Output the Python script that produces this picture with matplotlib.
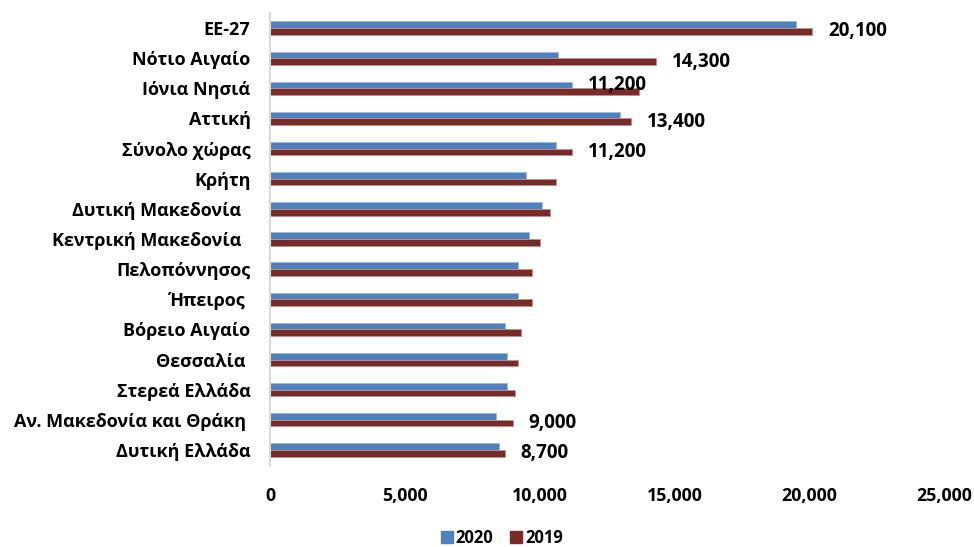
import matplotlib
matplotlib.use("Agg")
import matplotlib.pyplot as plt
import numpy as np
from matplotlib.patches import Patch

plt.rcParams['font.family'] = ['Open Sans', 'DejaVu Sans']
plt.rcParams['font.weight'] = 'bold'

categories = ["ΕΕ-27", "Νότιο Αιγαίο", "Ιόνια Νησιά", "Αττική", "Σύνολο χώρας",
              "Κρήτη", "Δυτική Μακεδονία  ", "Κεντρική Μακεδονία  ", "Πελοπόννησος",
              "Ήπειρος ", "Βόρειο Αιγαίο", "Θεσσαλία ", "Στερεά Ελλάδα",
              "Αν. Μακεδονία και Θράκη ", "Δυτική Ελλάδα"]
values_2020 = [19500, 10700, 11200, 13000, 10600, 9500, 10100, 9600, 9200,
               9200, 8700, 8800, 8800, 8400, 8500]
values_2019 = [20100, 14300, 13700, 13400, 11200, 10600, 10400, 10000, 9700,
               9700, 9300, 9200, 9100, 9000, 8700]
# rows that carry a data label, and which series the label belongs to
labelled_rows = [(0, "2019"), (1, "2019"), (2, "2020"), (3, "2019"),
                 (4, "2019"), (13, "2019"), (14, "2019")]
xticks = [0, 5000, 10000, 15000, 20000, 25000]

c2020 = "#4F81BD"
c2019 = "#772C2A"

fig = plt.figure(figsize=(9.74, 5.47), dpi=100)
ax = fig.add_axes([270/974, 82/547, 674/974, 452/547])

n = len(categories)
y = np.arange(n)
h = 0.222
ax.barh(y - h/2, values_2020, height=h, color=c2020, edgecolor="#9DB9DE", linewidth=0.6, label="2020")
ax.barh(y + h/2, values_2019, height=h, color=c2019, edgecolor="#C09090", linewidth=0.6, label="2019")

ax.set_ylim(n - 0.5, -0.5)
ax.set_xlim(0, 25000)
ax.set_yticks(y)
ax.set_yticklabels(categories, fontsize=13, fontweight='bold')
ax.set_xticks(xticks)
ax.set_xticklabels([f"{v:,}" for v in xticks], fontsize=12.8, fontweight='bold')
ax.tick_params(axis='y', length=0, pad=14)
ax.tick_params(axis='x', length=0, pad=16)

for s in ['top', 'right', 'bottom']:
    ax.spines[s].set_visible(False)
ax.spines['left'].set_color('#D9D9D9')
ax.spines['left'].set_linewidth(1.5)

for idx, series in labelled_rows:
    if series == "2019":
        v = values_2019[idx]; yy = idx + h/2
    else:
        v = values_2020[idx]; yy = idx - h/2
    ax.annotate(f"{v:,}", xy=(v, yy), xytext=(16, 0), textcoords='offset pixels',
                ha='left', va='center', fontsize=13.5, fontweight='bold')

handles = [Patch(color=c2020, label="2020"), Patch(color=c2019, label="2019")]
fig.legend(handles=handles, loc='center', bbox_to_anchor=(502/974, 1 - 538/547),
           ncol=2, frameon=False, handlelength=0.7, handleheight=0.7,
           handletextpad=0.2, columnspacing=1.0, prop={'weight': 'bold', 'size': 12})

fig.savefig("out.png", dpi=100)
